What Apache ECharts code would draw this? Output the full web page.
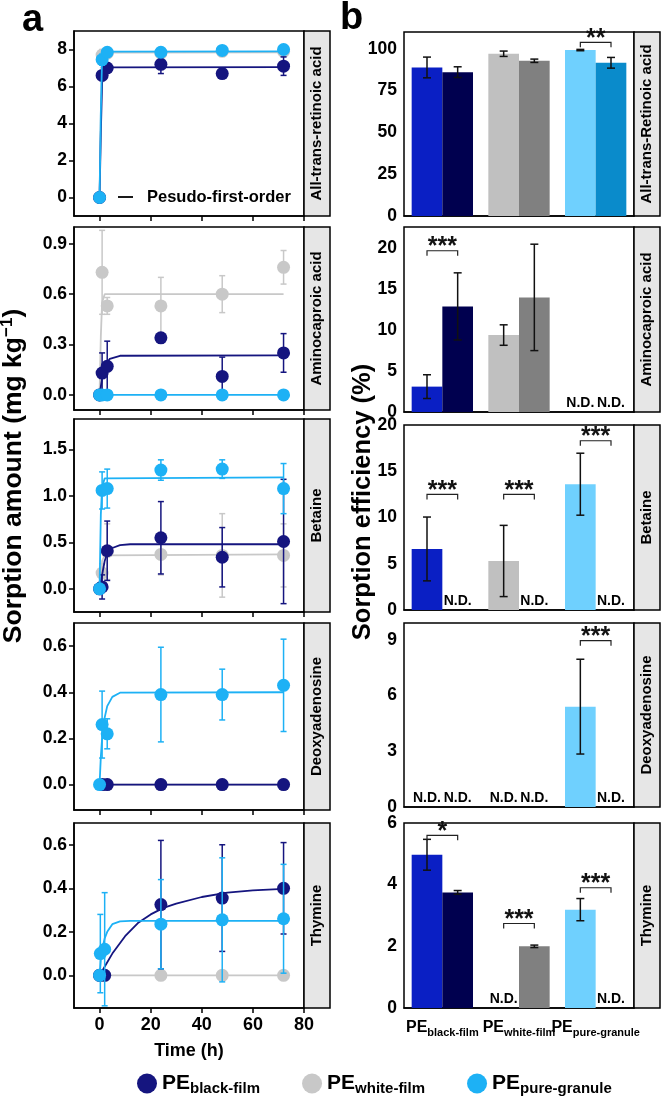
<!DOCTYPE html>
<html>
<head>
<meta charset="utf-8">
<script src="https://cdn.jsdelivr.net/npm/echarts@6.0.0/dist/echarts.min.js"></script>
<style>
  html, body { margin: 0; padding: 0; background: #fff; }
  #chart { width: 661px; height: 1097px; }
</style>
</head>
<body>
<div id="chart"></div>
<script>
// ---- data: panel a, [time (h), mean, sd] ----
const retinoicBlack = [[0, 0, 0], [1, 6.6, 0.2], [3, 7.0, 0.25], [24, 7.2, 0.5], [48, 6.7, 0.15], [72, 7.1, 0.5]];
const retinoicWhite = [[0, 0, 0], [1, 7.7, 0.3], [3, 7.8, 0.2], [24, 7.8, 0.2], [48, 7.9, 0.25], [72, 7.9, 0.2]];
const retinoicGranule = [[0, 0, 0], [1, 7.45, 0.3], [3, 7.85, 0.15], [24, 7.85, 0.1], [48, 7.95, 0.15], [72, 8.0, 0.1]];
const retinoicFitBlack = [[0, 0], [0.5, 3.5], [1, 6.2], [2, 6.95], [3, 7.03], [72, 7.05]];
const retinoicFitWhite = [[0, 0], [0.5, 4.5], [1, 7.5], [2, 7.83], [72, 7.85]];
const retinoicFitGranule = [[0, 0], [0.5, 4.6], [1, 7.6], [2, 7.88], [72, 7.9]];

const aminoBlack = [[0, 0, 0], [1, 0.13, 0.12], [3, 0.17, 0.15], [24, 0.34, 0.03], [48, 0.11, 0.115], [72, 0.25, 0.115]];
const aminoWhite = [[0, 0, 0], [1, 0.73, 0.25], [3, 0.53, 0.05], [24, 0.53, 0.17], [48, 0.60, 0.11], [72, 0.76, 0.10]];
const aminoGranule = [[0, 0, 0], [1, 0, 0], [3, 0, 0], [24, 0, 0], [48, 0, 0], [72, 0, 0]];
const aminoFitBlack = [[0, 0], [1, 0.1], [2, 0.17], [4, 0.215], [8, 0.233], [72, 0.235]];
const aminoFitWhite = [[0, 0], [0.5, 0.35], [1, 0.55], [2, 0.6], [72, 0.6]];
const aminoFitGranule = [[0, 0], [72, 0]];

const betaineBlack = [[0, 0, 0], [1, 0.02, 0.13], [3, 0.41, 0.32], [24, 0.55, 0.39], [48, 0.34, 0.32], [72, 0.51, 0.67]];
const betaineWhite = [[0, 0, 0], [1, 0.17, 0.1], [3, 0.40, 0.3], [24, 0.37, 0.22], [48, 0.36, 0.45], [72, 0.36, 0.34]];
const betaineGranule = [[0, 0, 0], [1, 1.06, 0.2], [3, 1.08, 0.21], [24, 1.28, 0.11], [48, 1.29, 0.1], [72, 1.08, 0.27]];
const betaineFitBlack = [[0, 0], [1, 0.15], [2, 0.3], [3, 0.38], [5, 0.44], [8, 0.47], [12, 0.48], [72, 0.48]];
const betaineFitWhite = [[0, 0], [1, 0.3], [2, 0.36], [72, 0.37]];
const betaineFitGranule = [[0, 0], [0.5, 0.8], [1, 1.1], [2, 1.19], [72, 1.2]];

const deoxyBlack = [[1, 0, 0], [3, 0, 0], [24, 0, 0], [48, 0, 0], [72, 0, 0]];
const deoxyWhite = [[1, 0, 0], [3, 0, 0], [24, 0, 0], [48, 0, 0], [72, 0, 0]];
const deoxyGranule = [[0, 0, 0], [1, 0.26, 0.145], [3, 0.22, 0.065], [24, 0.39, 0.205], [48, 0.39, 0.11], [72, 0.43, 0.2]];
const deoxyFitBlack = [[0, 0], [72, 0]];
const deoxyFitWhite = [[0, 0], [72, 0]];
const deoxyFitGranule = [[0, 0], [0.5, 0.12], [1, 0.2], [2, 0.29], [3, 0.34], [5, 0.38], [8, 0.398], [72, 0.40]];

const thymineBlack = [[0, 0, 0], [2, 0, 0], [24, 0.325, 0.295], [48, 0.355, 0.245], [72, 0.40, 0.21]];
const thymineWhite = [[0, 0, 0], [2, 0, 0], [24, 0, 0], [48, 0, 0], [72, 0, 0]];
const thymineGranule = [[0, 0, 0], [0.3, 0.10, 0.18], [2, 0.12, 0.26], [24, 0.235, 0.205], [48, 0.255, 0.285], [72, 0.26, 0.25]];
const thymineFitBlack = [[0, 0], [2.5, 0.05], [5, 0.1], [10, 0.18], [15, 0.24], [20, 0.28], [25, 0.31], [30, 0.33], [40, 0.36], [50, 0.38], [60, 0.39], [72, 0.397]];
const thymineFitWhite = [[0, 0], [72, 0]];
const thymineFitGranule = [[0, 0], [0.5, 0.07], [1, 0.12], [2, 0.17], [3, 0.2], [5, 0.235], [8, 0.248], [12, 0.25], [72, 0.25]];

const timeTicks = [0, 20, 40, 60, 80];

// ---- data: panel b, sorption efficiency (%), null = N.D. ----
const barCats = ['black-film', 'white-film', 'pure-granule'];
const retinoicEffA = [88.8, 97.0, 99.2], retinoicErrA = [6.2, 1.6, 0.4];
const retinoicEffB = [86.0, 92.8, 91.6], retinoicErrB = [3.2, 1.0, 3.2];
const retinoicSig = [[2, 103.8, '**']];

const aminoEffA = [3.1, 9.4, null], aminoErrA = [1.45, 1.25, 0];
const aminoEffB = [12.9, 14.0, null], aminoErrB = [4.1, 6.5, 0];
const aminoSig = [[0, 19.7, '***']];

const betaineEffA = [6.6, 5.3, 13.6], betaineErrA = [3.45, 3.85, 3.35];
const betaineEffB = [null, null, null], betaineErrB = [0, 0, 0];
const betaineSig = [[0, 12.5, '***'], [1, 12.5, '***'], [2, 18.3, '***']];

const deoxyEffA = [null, null, 5.4], deoxyErrA = [0, 0, 2.55];
const deoxyEffB = [null, null, null], deoxyErrB = [0, 0, 0];
const deoxySig = [[2, 8.95, '***']];

const thymineEffA = [4.97, null, 3.19], thymineErrA = [0.5, 0, 0.36];
const thymineEffB = [3.75, 2.0, null], thymineErrB = [0.06, 0.04, 0];
const thymineSig = [[0, 5.6, '*'], [1, 2.74, '***'], [2, 3.9, '***']];

// ---- styling ----
const FONT = '"Liberation Sans", Arial, sans-serif';
const colBlack = '#15157f', colWhite = '#c8c8c8', colGranule = '#1db1f5';
const barColorsA = ['#0a1fc4', '#c0c0c0', '#6fd0fe'];
const barColorsB = ['#00004f', '#808080', '#0a8bcb'];

const leftPanels = [
  { name: 'All-trans-retinoic acid', min: -1, max: 9, ticks: [0, 2, 4, 6, 8], dec: 0,
    pts: [retinoicWhite, retinoicBlack, retinoicGranule], fits: [retinoicFitWhite, retinoicFitBlack, retinoicFitGranule] },
  { name: 'Aminocaproic acid', min: -0.09, max: 1.0, ticks: [0, 0.3, 0.6, 0.9], dec: 1,
    pts: [aminoWhite, aminoBlack, aminoGranule], fits: [aminoFitWhite, aminoFitBlack, aminoFitGranule] },
  { name: 'Betaine', min: -0.25, max: 1.83, ticks: [0, 0.5, 1.0, 1.5], dec: 1,
    pts: [betaineWhite, betaineBlack, betaineGranule], fits: [betaineFitWhite, betaineFitBlack, betaineFitGranule] },
  { name: 'Deoxyadenosine', min: -0.11, max: 0.7, ticks: [0, 0.2, 0.4, 0.6], dec: 1,
    pts: [deoxyWhite, deoxyBlack, deoxyGranule], fits: [deoxyFitWhite, deoxyFitBlack, deoxyFitGranule] },
  { name: 'Thymine', min: -0.15, max: 0.7, ticks: [0, 0.2, 0.4, 0.6], dec: 1,
    pts: [thymineWhite, thymineBlack, thymineGranule], fits: [thymineFitWhite, thymineFitBlack, thymineFitGranule] }
];
const leftNames = ['white-film', 'black-film', 'pure-granule'];
const leftColors = [colWhite, colBlack, colGranule];

const rightPanels = [
  { name: 'All-trans-Retinoic acid', max: 110, ticks: [0, 25, 50, 75, 100],
    a: retinoicEffA, ea: retinoicErrA, b: retinoicEffB, eb: retinoicErrB, sig: retinoicSig },
  { name: 'Aminocaproic acid', max: 22.6, ticks: [0, 5, 10, 15, 20],
    a: aminoEffA, ea: aminoErrA, b: aminoEffB, eb: aminoErrB, sig: aminoSig },
  { name: 'Betaine', max: 20, ticks: [0, 5, 10, 15, 20],
    a: betaineEffA, ea: betaineErrA, b: betaineEffB, eb: betaineErrB, sig: betaineSig },
  { name: 'Deoxyadenosine', max: 9.9, ticks: [0, 3, 6, 9],
    a: deoxyEffA, ea: deoxyErrA, b: deoxyEffB, eb: deoxyErrB, sig: deoxySig },
  { name: 'Thymine', max: 6, ticks: [0, 2, 4, 6],
    a: thymineEffA, ea: thymineErrA, b: thymineEffB, eb: thymineErrB, sig: thymineSig }
];

// layout of the panels (px)
const tops = [31, 227, 419, 623, 823];
const leftHeights = [185, 183, 193, 187, 185];
const rightTops = [32, 227, 425, 623, 823];
const rightHeights = [184, 185, 185, 184, 185];

const axisBlack = { color: '#000', width: 1.5 };
const tickFont = { color: '#000', fontSize: 17.5, fontWeight: 'bold', fontFamily: FONT };

// vertical error bar, offset = fraction of category band
function errorBar(color, cap, offset) {
  return function (params, api) {
    const x = api.value(0);
    const p1 = api.coord([x, api.value(2)]);
    const p2 = api.coord([x, api.value(1)]);
    let dx = 0;
    if (offset) dx = offset * api.size([1, 0])[0];
    const cx = p1[0] + dx;
    const style = { stroke: color, lineWidth: 1.5 };
    return {
      type: 'group',
      children: [
        { type: 'line', shape: { x1: cx, y1: p1[1], x2: cx, y2: p2[1] }, style },
        { type: 'line', shape: { x1: cx - cap, y1: p1[1], x2: cx + cap, y2: p1[1] }, style },
        { type: 'line', shape: { x1: cx - cap, y1: p2[1], x2: cx + cap, y2: p2[1] }, style }
      ]
    };
  };
}

const grids = [], xAxes = [], yAxes = [], series = [], graphics = [];

function stripLabel(x, top, h, text) {
  graphics.push({
    type: 'rect', shape: { x: x, y: top, width: 26, height: h },
    style: { fill: '#e6e6e6', stroke: '#000', lineWidth: 1.5 }
  });
  graphics.push({
    type: 'text', x: x + 13, y: top + h / 2, rotation: Math.PI / 2,
    style: { text: text, fill: '#000', fontSize: 15, fontWeight: 'bold', fontFamily: FONT,
      align: 'center', verticalAlign: 'middle' }
  });
}

// ---- panel a ----
leftPanels.forEach(function (p, i) {
  const last = i === leftPanels.length - 1;
  grids.push({ left: 74, top: tops[i], width: 230, height: leftHeights[i],
    show: true, borderColor: '#000', borderWidth: 1.5 });
  xAxes.push({
    type: 'value', gridIndex: i, min: -10, max: 80,
    splitLine: { show: false },
    axisLine: { onZero: false, lineStyle: axisBlack },
    axisTick: { customValues: timeTicks, length: 5, lineStyle: axisBlack },
    axisLabel: Object.assign({ show: last, customValues: timeTicks, margin: 8 }, tickFont, { fontSize: 18 }),
    name: last ? 'Time (h)' : '', nameLocation: 'middle', nameGap: 34,
    nameTextStyle: { color: '#000', fontSize: 18, fontWeight: 'bold', fontFamily: FONT }
  });
  yAxes.push({
    type: 'value', gridIndex: i, min: p.min, max: p.max,
    splitLine: { show: false },
    axisLine: { onZero: false, lineStyle: axisBlack },
    axisTick: { customValues: p.ticks, length: 5, lineStyle: axisBlack },
    axisLabel: Object.assign({ customValues: p.ticks, margin: 7,
      formatter: function (v) { return v.toFixed(p.dec); } }, tickFont)
  });
  p.pts.forEach(function (pts, m) {
    const color = leftColors[m];
    series.push({
      type: 'line', xAxisIndex: i, yAxisIndex: i, data: p.fits[m],
      showSymbol: false, silent: true, z: 2 + m,
      lineStyle: { color: color, width: 1.8 }
    });
    series.push({
      type: 'custom', xAxisIndex: i, yAxisIndex: i, z: 2 + m, clip: true, silent: true,
      renderItem: errorBar(color, 3, 0),
      data: pts.filter(function (d) { return d[2] > 0; })
        .map(function (d) { return [d[0], d[1] - d[2], d[1] + d[2]]; })
    });
    series.push({
      type: 'scatter', name: leftNames[m], xAxisIndex: i, yAxisIndex: i, z: 2 + m,
      symbolSize: 13, itemStyle: { color: color, opacity: 1 },
      data: pts.map(function (d) { return [d[0], d[1]]; })
    });
  });
  stripLabel(304, tops[i], leftHeights[i], p.name);
});

// ---- panel b ----
function barData(vals, colors) {
  return vals.map(function (v, k) {
    if (v == null) {
      return { value: 0, label: { show: true, position: 'top', distance: 2, formatter: 'N.D.',
        color: '#000', fontSize: 14, fontWeight: 'bold', fontFamily: FONT } };
    }
    return { value: v, itemStyle: { color: colors[k] } };
  });
}
function errData(vals, errs) {
  const out = [];
  vals.forEach(function (v, k) {
    if (v != null && errs[k] > 0) out.push([k, v - errs[k], v + errs[k]]);
  });
  return out;
}

rightPanels.forEach(function (p, j) {
  const gi = 5 + j;
  const last = j === rightPanels.length - 1;
  grids.push({ left: 404, top: rightTops[j], width: 230, height: rightHeights[j],
    show: true, borderColor: '#000', borderWidth: 1.5 });
  xAxes.push({
    type: 'category', gridIndex: gi, data: barCats,
    axisLine: { lineStyle: axisBlack },
    axisTick: { alignWithLabel: true, length: 5, lineStyle: axisBlack },
    axisLabel: {
      show: last, interval: 0, margin: 10, color: '#000',
      formatter: function (v) { return '{p|PE}{s|' + v + '}'; },
      rich: {
        p: { fontSize: 16, fontWeight: 'bold', fontFamily: FONT, color: '#000', lineHeight: 20 },
        s: { fontSize: 11, fontWeight: 'bold', fontFamily: FONT, color: '#000', lineHeight: 14, verticalAlign: 'bottom' }
      }
    }
  });
  yAxes.push({
    type: 'value', gridIndex: gi, min: 0, max: p.max,
    splitLine: { show: false },
    axisLine: { onZero: false, lineStyle: axisBlack },
    axisTick: { customValues: p.ticks, length: 5, lineStyle: axisBlack },
    axisLabel: Object.assign({ customValues: p.ticks, margin: 7 }, tickFont)
  });
  series.push({
    type: 'bar', xAxisIndex: gi, yAxisIndex: gi, barWidth: '40%', barGap: '0%',
    data: barData(p.a, barColorsA), silent: true, z: 2
  });
  series.push({
    type: 'bar', xAxisIndex: gi, yAxisIndex: gi, barWidth: '40%', barGap: '0%',
    data: barData(p.b, barColorsB), silent: true, z: 2
  });
  series.push({
    type: 'custom', xAxisIndex: gi, yAxisIndex: gi, z: 4, silent: true,
    renderItem: errorBar('#111', 4, -0.2), data: errData(p.a, p.ea)
  });
  series.push({
    type: 'custom', xAxisIndex: gi, yAxisIndex: gi, z: 4, silent: true,
    renderItem: errorBar('#111', 4, 0.2), data: errData(p.b, p.eb)
  });
  series.push({
    type: 'custom', xAxisIndex: gi, yAxisIndex: gi, z: 5, silent: true,
    data: p.sig.map(function (s) { return [s[0], s[1]]; }),
    renderItem: function (params, api) {
      const c = api.coord([api.value(0), api.value(1)]);
      const band = api.size([1, 0])[0];
      const xl = c[0] - 0.2 * band, xr = c[0] + 0.2 * band;
      return {
        type: 'group',
        children: [
          { type: 'polyline', shape: { points: [[xl, c[1] + 5], [xl, c[1]], [xr, c[1]], [xr, c[1] + 5]] },
            style: { stroke: '#222', lineWidth: 1.2, fill: null } },
          { type: 'text', x: c[0], y: c[1] + 9,
            style: { text: p.sig[params.dataIndex][2], fill: '#111', fontSize: 25, fontWeight: 'bold',
              fontFamily: FONT, align: 'center', verticalAlign: 'bottom' } }
        ]
      };
    }
  });
  stripLabel(634, rightTops[j], rightHeights[j], p.name);
});

// ---- titles and annotations ----
graphics.push(
  { type: 'text', x: 22, y: 2, style: { text: 'a', fill: '#000', fontSize: 38, fontWeight: 'bold', fontFamily: FONT } },
  { type: 'text', x: 340, y: 0, style: { text: 'b', fill: '#000', fontSize: 38, fontWeight: 'bold', fontFamily: FONT } },
  { type: 'line', shape: { x1: 118, y1: 197, x2: 133, y2: 197 }, style: { stroke: '#000', lineWidth: 1.8 } },
  { type: 'text', x: 147, y: 197, style: { text: 'Pesudo-first-order', fill: '#000', fontSize: 16.5,
      fontWeight: 'bold', fontFamily: FONT, verticalAlign: 'middle' } },
  { type: 'text', x: 14, y: 476, rotation: Math.PI / 2,
    style: { text: '{n|Sorption amount (mg kg}{u|−1}{n|)}', align: 'center', verticalAlign: 'middle',
      rich: {
        n: { fontSize: 26.5, fontWeight: 'bold', fontFamily: FONT, fill: '#000', lineHeight: 31 },
        u: { fontSize: 17, fontWeight: 'bold', fontFamily: FONT, fill: '#000', lineHeight: 17, verticalAlign: 'top' }
      } } },
  { type: 'text', x: 363, y: 502, rotation: Math.PI / 2,
    style: { text: 'Sorption efficiency (%)', fill: '#000', fontSize: 25.5, fontWeight: 'bold', fontFamily: FONT,
      align: 'center', verticalAlign: 'middle' } }
);

const chart = echarts.init(document.getElementById('chart'));
chart.setOption({
  animation: false,
  backgroundColor: '#fff',
  grid: grids,
  xAxis: xAxes,
  yAxis: yAxes,
  legend: {
    data: ['black-film', 'white-film', 'pure-granule'],
    left: 132, top: 1068, icon: 'circle', itemWidth: 20, itemHeight: 20, itemGap: 42,
    selectedMode: false,
    formatter: function (n) { return '{p|PE}{s|' + n + '}'; },
    textStyle: {
      rich: {
        p: { fontSize: 21, fontWeight: 'bold', fontFamily: FONT, color: '#000', lineHeight: 26 },
        s: { fontSize: 15, fontWeight: 'bold', fontFamily: FONT, color: '#000', lineHeight: 18, verticalAlign: 'bottom' }
      }
    }
  },
  graphic: graphics,
  series: series
});
window.addEventListener('resize', function () {
  chart.resize();
});
</script>
</body>
</html>
